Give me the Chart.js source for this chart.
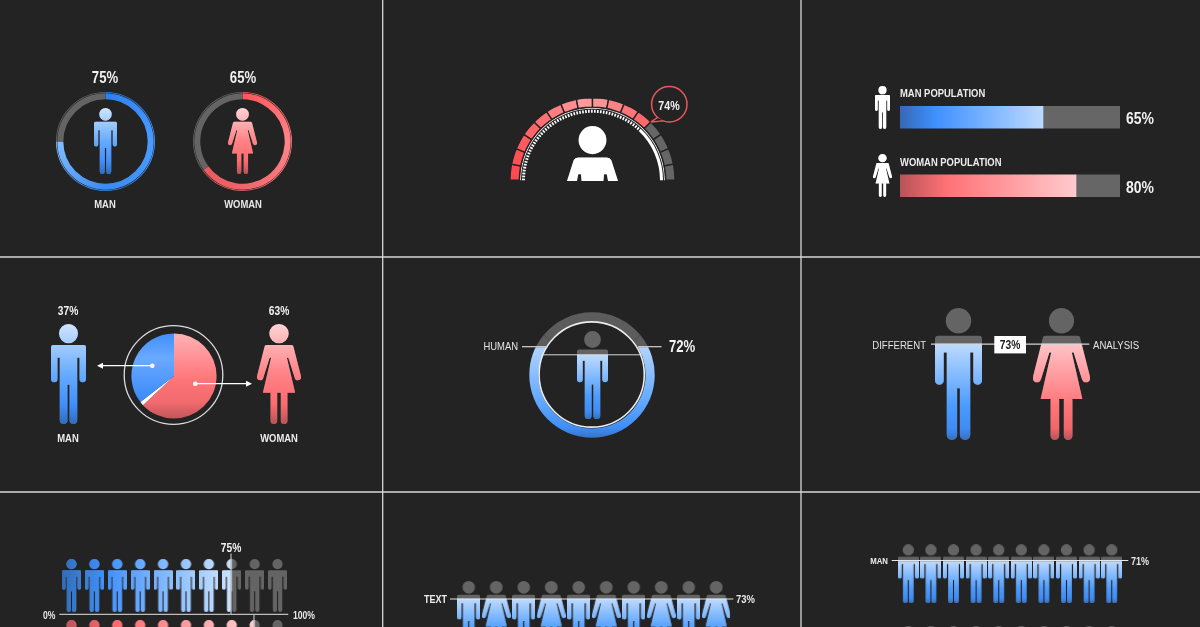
<!DOCTYPE html>
<html><head><meta charset="utf-8">
<script src="https://cdn.jsdelivr.net/npm/chart.js@4"></script>
<style>
html,body{margin:0;padding:0;width:1200px;height:627px;overflow:hidden;background:#232323}
#stage{position:absolute;left:0;top:0;width:1200px;height:627px;overflow:hidden}
canvas{position:absolute;display:block}
svg{position:absolute;left:0;top:0;z-index:5}
.t{position:absolute;white-space:nowrap;z-index:6;color:#ececec;font-family:"Liberation Sans",Arial,sans-serif;line-height:1}
</style></head><body><div id="stage"></div>
<script>
// ---------- data ----------
const ringLabels = ['MAN','WOMAN'];
const ringValues = [75,65];
const gaugeValue = 74;
const gaugeCells = [1,1,1,1,1,1,1,1,1,1,1,1,1,1,1,1];
const barLabels = ['MAN POPULATION','WOMAN POPULATION'];
const barValues = [65,80];
const pieLabels = ['MAN','WOMAN'];
const pieValues = [37,63];
const humanLabel = 'HUMAN';
const humanValue = 72;
const humanIconFill = 73;
const diffLabels = ['DIFFERENT','ANALYSIS'];
const diffValue = 73;
const rowMenValue = 75;
const rowWomenValue = 85;
const rowTicks = ['0%','100%'];
const mixedLabel = 'TEXT';
const mixedValue = 73;
const manRowLabel = 'MAN';
const manRowValue = 71;
const rowMenColors = ['#2f6cbc','#3a7fd8','#3f90ff','#5aa1ff','#74b0ff','#8cbfff','#a5ceff','#c0ddff','#d4e8ff'];
const rowWomenColors = ['#b85358','#cf5b60','#ff6367','#ff7276','#ff8387','#ff9397','#ffa4a7','#ffb6b9','#ffc6c8','#ffd4d6'];

// ---------- helpers ----------
const BG='#232323', GRAY='#646464';
const stage=document.getElementById('stage');
Chart.defaults.animation=false;
const BLUE=[[0,'#cfe4ff'],[.5,'#66abff'],[.8,'#3f90ff'],[1,'#2f6cbc']];
const RED=[[0,'#ffd2d4'],[.5,'#ff8286'],[.8,'#ff6a6e'],[1,'#b85358']];
const BLUE_CUT=[[0,'#bedbff'],[.65,'#4a9bff'],[.88,'#3f8cf5'],[1,'#3570c0']];
const RED_CUT=[[0,'#ffc4c7'],[.65,'#ff7478'],[.88,'#f0666a'],[1,'#b85358']];
const WHITE=[[0,'#fff'],[1,'#fff']];
const NOPLUG={legend:{display:false},tooltip:{enabled:false}};
const NOPAD={autoPadding:false,padding:0};

function makeCanvas(left,top,w,h){
  const c=document.createElement('canvas');
  c.width=Math.round(w);c.height=Math.round(h);
  c.style.left=left+'px';c.style.top=top+'px';
  c.style.width=c.width+'px';c.style.height=c.height+'px';
  stage.appendChild(c);return c;
}
function rr(p,x,y,w,h,r){p.roundRect(x,y,w,h,r);}
function manPath(){
  const p=new Path2D();
  p.arc(70,38,38,0,Math.PI*2);p.closePath();
  rr(p,0,83,140,50,9);
  rr(p,0,90,26,140,13);rr(p,114,90,26,140,13);
  p.rect(35,100,70,140);
  rr(p,35,200,31,195,15);rr(p,74,200,31,195,15);
  return p;
}
function womanPath(){
  const p=new Path2D();
  p.arc(86,38,38,0,Math.PI*2);p.closePath();
  rr(p,29,83,114,50,9);
  // clockwise polygons so the union stays solid
  p.moveTo(29,92);p.lineTo(52,92);p.lineTo(50,132);p.lineTo(24,214);p.lineTo(0,206);p.closePath();
  p.moveTo(143,92);p.lineTo(172,206);p.lineTo(148,214);p.lineTo(122,132);p.lineTo(120,92);p.closePath();
  p.moveTo(24.5,210);p.arc(12,210,12.5,0,Math.PI*2);p.closePath();
  p.moveTo(172.5,210);p.arc(160,210,12.5,0,Math.PI*2);p.closePath();
  p.moveTo(58,120);p.lineTo(114,120);p.lineTo(149,272);p.lineTo(23,272);p.closePath();
  rr(p,53,262,26,133,13);rr(p,93,262,26,133,13);
  return p;
}
function bustPath(){
  const p=new Path2D();
  p.arc(77,42,42,0,Math.PI*2);p.closePath();
  p.moveTo(34,94);p.lineTo(120,94);p.quadraticCurveTo(130,94,134,102);
  p.lineTo(154,164);p.lineTo(124,164);p.lineTo(120,144);p.lineTo(112,144);p.lineTo(110,164);
  p.lineTo(44,164);p.lineTo(42,144);p.lineTo(34,144);p.lineTo(30,164);p.lineTo(0,164);p.lineTo(20,102);p.quadraticCurveTo(24,94,34,94);p.closePath();
  return p;
}
const SHAPES={man:{w:140,h:395,path:manPath},woman:{w:172,h:395,path:womanPath},bust:{w:154,h:164,path:bustPath}};
function icon({kind,h,stops=BLUE,cut=0,split=1,across=null}){
  const s=SHAPES[kind],k=h/s.h,c=document.createElement('canvas');
  c.width=Math.max(1,Math.round(s.w*k));c.height=Math.max(1,Math.round(h));
  const g=c.getContext('2d');g.scale(c.width/s.w,c.height/s.h);
  const path=s.path();
  g.fillStyle=GRAY;g.fill(path);
  let lit;
  if(across){lit=g.createLinearGradient(0,0,s.w,0);lit.addColorStop(0,across[0]);lit.addColorStop(1,across[1]);}
  else{lit=g.createLinearGradient(0,cut*s.h,0,s.h);stops.forEach(a=>lit.addColorStop(a[0],a[1]));}
  g.save();g.beginPath();g.rect(0,cut*s.h,split*s.w,s.h);g.clip();
  g.fillStyle=lit;g.fill(path);g.restore();
  return c;
}
// a row/grid of pictograms: one scatter chart, one point per icon
function iconChart(left,top,colW,rowH,rows){
  const cols=rows[0].length;
  const c=makeCanvas(left,top,colW*cols,rowH*rows.length);
  const pts=[],styles=[];
  rows.forEach((r,ri)=>r.forEach((ic,ci)=>{pts.push({x:ci+.5,y:ri+.5});styles.push(ic);}));
  return new Chart(c,{type:'scatter',data:{datasets:[{data:pts,pointStyle:styles,pointRadius:5,clip:false}]},
   options:{responsive:false,events:[],layout:NOPAD,plugins:NOPLUG,
    scales:{x:{type:'linear',display:false,min:0,max:cols},y:{type:'linear',display:false,min:0,max:rows.length,reverse:true}}}});
}
function single(cx,cy,spec){
  const ic=icon(spec);
  return iconChart(cx-ic.width/2-2,cy-ic.height/2-2,ic.width+4,ic.height+4,[[ic]]);
}
function ring(cx,cy,R,cfg){
  const size=Math.ceil(R*2)+2;
  const c=makeCanvas(cx-size/2,cy-size/2,size,size);
  const ds=cfg.datasets(c.getContext('2d'),size/2);
  return new Chart(c,{type:'doughnut',data:{datasets:ds},options:{responsive:false,events:[],radius:R,cutout:(cfg.cutout/R*100)+'%',
    rotation:cfg.rotation||0,circumference:360,layout:NOPAD,plugins:NOPLUG}});
}
function text(s,x,y,size,weight,anchor,color){
  const d=document.createElement('div');d.className='t';d.textContent=s;
  d.style.left=x+'px';d.style.top=y+'px';d.style.fontSize=size+'px';d.style.fontWeight=weight;
  if(color)d.style.color=color;
  const tx=anchor==='c'?'-50%':anchor==='r'?'-100%':'0';
  d.style.transformOrigin=anchor==='c'?'center':anchor==='r'?'right':'left';
  d.style.transform='translate('+tx+',-50%) scaleX(.82)';
  stage.appendChild(d);
}
function conic(g,c,stops,start){const q=g.createConicGradient(start,c,c);stops.forEach(a=>q.addColorStop(a[0],a[1]));return q;}

// ---------- panel 1: two rings ----------
const ringCenters=[[105,141],[242.5,141]];
const ringStops=[
 [[0,'#2d7fee'],[.25,'#4a9bff'],[.5,'#3a8bf2'],[.75,'#82bcff'],[1,'#82bcff']],
 [[0,'#ff5559'],[.25,'#ff8488'],[.5,'#f0656a'],[.65,'#e85a5e'],[1,'#e85a5e']]];
ringValues.forEach((v,i)=>{
  const [cx,cy]=ringCenters[i];
  const vals=[v,100-v];
  ring(cx,cy,49.5,{cutout:42.2,datasets:(g,c)=>{
    const cols=[conic(g,c,ringStops[i],-Math.PI/2),GRAY];
    return [{data:vals,backgroundColor:cols,borderWidth:0,weight:.8},
            {data:vals,backgroundColor:'rgba(0,0,0,0)',borderWidth:0,weight:.5},
            {data:vals,backgroundColor:cols,borderWidth:0,weight:6}];
  }});
  text(v+'%',cx,78.3,16,700,'c','#f2f2f2');
  text(ringLabels[i],cx,204.5,11.5,700,'c','#e8e8e8');
});
single(105,141.2,{kind:'man',h:66,stops:BLUE});
single(242.5,141.2,{kind:'woman',h:66,stops:RED});

// ---------- panel 2: half gauge ----------
(function(){
  const R=82.5,W=Math.round(R*2)+2,H=Math.round(R)+1;
  const c=makeCanvas(592.3-W/2,180.7-H,W,H);
  const reds=['#ff4b4f','#ff5155','#ff5a5e','#ff6468','#ff7074','#ff7e82','#ff8c90','#ff999c','#ff9497','#ff8286','#ff7478','#ff686c'];
  const lit=Math.round(gaugeValue/100*gaugeCells.length);
  const cellColors=gaugeCells.map((_,i)=>i<lit?reds[i]:'#666666');
  const dotSpan=gaugeValue/100*180, dotCount=54, dots=[],dotCols=[];
  for(let i=0;i<dotCount;i++){dots.push(dotSpan/dotCount*.55,dotSpan/dotCount*.45);dotCols.push('#ffffff','rgba(0,0,0,0)');}
  dots.push(180-dotSpan);dotCols.push('#ffffff');
  new Chart(c,{type:'doughnut',data:{datasets:[
    {data:gaugeCells,backgroundColor:cellColors,borderColor:BG,borderWidth:1.4,weight:9.4},
    {data:[1],backgroundColor:'rgba(0,0,0,0)',borderWidth:0,weight:.6},
    {data:[1],backgroundColor:'#e8e8e8',borderWidth:0,weight:1},
    {data:[1],backgroundColor:'rgba(0,0,0,0)',borderWidth:0,weight:1},
    {data:dots,backgroundColor:dotCols,borderWidth:0,weight:3}
  ]},options:{responsive:false,events:[],radius:R,cutout:((R-15)/R*100)+'%',rotation:-90,circumference:180,layout:NOPAD,plugins:NOPLUG}});
  single(592,153.3,{kind:'bust',h:54.7,stops:WHITE});
  text(gaugeValue+'%',669.3,104.6,13,700,'c','#f0f0f0');
})();

// ---------- panel 3: stacked horizontal bars ----------
(function(){
  const c=makeCanvas(900,83,220,137);
  const g=c.getContext('2d');
  const pair=[[[0,'#3568b4'],[.25,'#3f90ff'],[1,'#bcdaff']],[[0,'#b85358'],[.27,'#ff7276'],[1,'#ffcacd']]];
  const fills=pair.map((st,i)=>{const x=g.createLinearGradient(0,0,220*barValues[i]/100,0);st.forEach(a=>x.addColorStop(a[0],a[1]));return x;});
  new Chart(c,{type:'bar',data:{labels:barLabels,datasets:[
    {data:barValues,backgroundColor:fills,borderWidth:0,barThickness:22},
    {data:barValues.map(v=>100-v),backgroundColor:'#666666',borderWidth:0,barThickness:22}
  ]},options:{indexAxis:'y',responsive:false,events:[],layout:NOPAD,plugins:NOPLUG,
    scales:{x:{stacked:true,display:false,min:0,max:100},y:{stacked:true,display:false}}}});
  text(barLabels[0],900,94.3,11.5,700,'l','#ededed');
  text(barLabels[1],900,163,11.5,700,'l','#ededed');
  text(barValues[0]+'%',1126,118,17,700,'l','#f2f2f2');
  text(barValues[1]+'%',1126,186.5,17,700,'l','#f2f2f2');
  single(882,107,{kind:'man',h:43,stops:WHITE});
  single(882.5,175.8,{kind:'woman',h:43,stops:WHITE});
})();

// ---------- panel 4: pie ----------
(function(){
  const notch=1.5;
  ring(174.3,376,42.6,{cutout:0,datasets:(g,c)=>{
    const r=g.createLinearGradient(0,0,0,c*2);[[0,'#ffb4b8'],[.55,'#ff7478'],[.8,'#f06a6e'],[1,'#bc5459']].forEach(a=>r.addColorStop(a[0],a[1]));
    const b=g.createLinearGradient(0,0,0,c*2);[[0,'#3f8efa'],[.3,'#6aa9ff'],[.75,'#3d8cfa'],[1,'#3d8cfa']].forEach(a=>b.addColorStop(a[0],a[1]));
    return [{data:[pieValues[1],notch,pieValues[0]-notch],backgroundColor:[r,'#ffffff',b],borderWidth:0}];
  }});
  single(68.7,374.3,{kind:'man',h:100,stops:BLUE});
  single(279,374.3,{kind:'woman',h:100,stops:RED});
  text(pieValues[0]+'%',68.3,310.8,12.5,700,'c','#f0f0f0');
  text(pieValues[1]+'%',279,310.8,12.5,700,'c','#f0f0f0');
  text(pieLabels[0],68.3,439,11.5,700,'c','#ececec');
  text(pieLabels[1],279,439,11.5,700,'c','#ececec');
})();

// ---------- panel 5: level ring ----------
(function(){
  const span=humanValue/100*360;
  ring(591.7,374.5,62.7,{cutout:53.6,rotation:180-span/2,datasets:(g,c)=>{
    const top=c-62.7,full=125.4;
    const x=g.createLinearGradient(0,top,0,top+full);
    const f=(1-humanValue/100);
    x.addColorStop(0,'#5c5c5c');x.addColorStop(f,'#5c5c5c');x.addColorStop(f+.001,'#b0d3ff');
    x.addColorStop(.75,'#5ba4ff');x.addColorStop(.92,'#3f8ef5');x.addColorStop(1,'#3872c4');
    return [{data:[humanValue,100-humanValue],backgroundColor:[x,x],borderWidth:0}];
  }});
  single(592.2,374.8,{kind:'man',h:88.3,stops:BLUE_CUT,cut:1-humanIconFill/100});
  text(humanLabel,517.7,347.2,11.5,400,'r','#e4e4e4');
  text(humanValue+'%',668.5,347,16,700,'l','#f4f4f4');
})();

// ---------- panel 6: two figures ----------
(function(){
  const cut=1-diffValue/100;
  single(958.7,374.2,{kind:'man',h:131.7,stops:BLUE_CUT,cut});
  single(1061.7,374.2,{kind:'woman',h:131.7,stops:RED_CUT,cut});
  text(diffLabels[0],925.7,344.8,11.7,400,'r','#e4e4e4');
  text(diffLabels[1],1092.7,344.8,11.7,400,'l','#e4e4e4');
  text(diffValue+'%',1010.2,345,12.5,700,'c','#222222');
})();

// ---------- panel 7: rows of ten ----------
(function(){
  const n=10,H=52.7,fillOf=(v,i)=>Math.max(0,Math.min(1,v/100*n-i));
  const men=[],women=[];
  for(let i=0;i<n;i++){
    men.push(icon({kind:'man',h:H,across:[rowMenColors[Math.min(i,8)],rowMenColors[Math.min(i+1,8)]],split:fillOf(rowMenValue,i)}));
    women.push(icon({kind:'woman',h:H,across:[rowWomenColors[i],rowWomenColors[Math.min(i+1,9)]],split:fillOf(rowWomenValue,i)}));
  }
  iconChart(59.6,585.3-61/2,22.85,61,[men,women]);
  text(rowTicks[0],43,614.7,10.5,700,'l','#e8e8e8');
  text(rowTicks[1],292.7,614.7,10.5,700,'l','#e8e8e8');
  text(rowMenValue+'%',231,547.5,12.5,700,'c','#f0f0f0');
})();

// ---------- panel 8: alternating figures ----------
(function(){
  const H=65.6,cut=1-mixedValue/100,row=[];
  for(let i=0;i<10;i++)row.push(icon({kind:i%2?'woman':'man',h:H,stops:BLUE_CUT,cut}));
  iconChart(454.6,581.4,27.45,H,[row]);
  text(mixedLabel,447.3,599.2,11,700,'r','#eeeeee');
  text(mixedValue+'%',735.7,599.5,11.5,700,'l','#e8e8e8');
})();

// ---------- panel 9: rows of men ----------
(function(){
  const H=59,cut=1-manRowValue/100,r1=[],r2=[];
  for(let i=0;i<10;i++){r1.push(icon({kind:'man',h:H,stops:BLUE_CUT,cut}));r2.push(icon({kind:'man',h:H,stops:BLUE_CUT,cut}));}
  iconChart(896.7,573.5-81.5/2,22.63,81.5,[r1,r2]);
  text(manRowLabel,888.3,561,9.5,700,'r','#eeeeee');
  text(manRowValue+'%',1130.7,561,11,700,'l','#e8e8e8');
})();

// ---------- frame, leader lines and callouts ----------
const L='#d4d4d4';
function seg(x1,y1,x2,y2,c,w){return `<line x1="${x1}" y1="${y1}" x2="${x2}" y2="${y2}" stroke="${c||L}" stroke-width="${w||1.2}"/>`;}
stage.insertAdjacentHTML('beforeend',`<svg width="1200" height="627" xmlns="http://www.w3.org/2000/svg">
${seg(382.7,0,382.7,627,'#d8d8d8',1.3)}${seg(801,0,801,627,'#d8d8d8',1.3)}${seg(0,257,1200,257,'#d8d8d8',1.3)}${seg(0,492,1200,492,'#d8d8d8',1.3)}
<path d="M657.6 117.7 L651 122 L663 120.8" fill="${BG}" stroke="#e8585d" stroke-width="1.5" stroke-linejoin="miter"/>
<circle cx="669.3" cy="104.3" r="17.7" fill="${BG}" stroke="#e8585d" stroke-width="1.5"/>
<path d="M658.2 118.2 L653.6 120.8 L663.4 120" fill="${BG}"/>
<circle cx="173.5" cy="375" r="49.3" fill="none" stroke="#dcdcdc" stroke-width="1.3"/>
${seg(152.3,365.7,102,365.7,'#fff',1.3)}<path d="M97 365.7 L103 362.7 L103 368.7 Z" fill="#fff"/><circle cx="152.3" cy="365.7" r="2.3" fill="#fff"/>
${seg(195.3,383.7,247,383.7,'#fff',1.3)}<path d="M252 383.7 L246 380.7 L246 386.7 Z" fill="#fff"/><circle cx="195.3" cy="383.7" r="2.3" fill="#fff"/>
<circle cx="591.7" cy="374.5" r="52.6" fill="none" stroke="#eeeeee" stroke-width="1.6"/>
${seg(522,346.7,548,346.7)}${seg(638,346.7,661.5,346.7)}${seg(543,354.8,640,354.8,'#d8d8d8',1)}
${seg(931,344.2,1089.3,344.2)}<rect x="994.3" y="336" width="31.7" height="17.4" fill="#ffffff"/>
${seg(231,553.5,231,614.3,'#bdbdbd',1.2)}${seg(59.3,614.3,288.3,614.3,'#bdbdbd',1.2)}${seg(254,614.3,254,627,'#bdbdbd',1.2)}
${seg(450,599,733.3,599,'#e6e6e6',1.2)}${seg(891.7,560.5,1128.3,560.5,'#e6e6e6',1.2)}
</svg>`);
</script></body></html>
